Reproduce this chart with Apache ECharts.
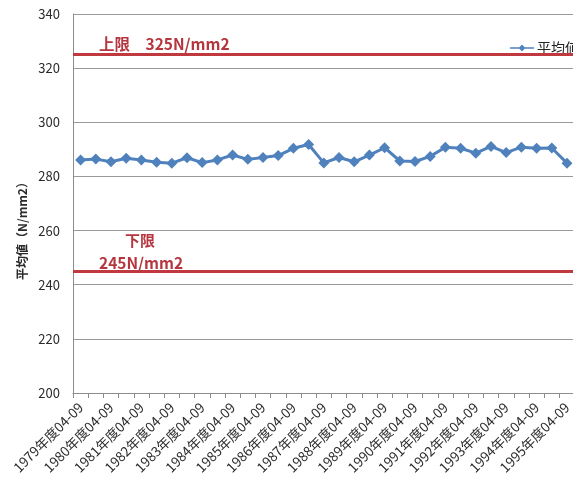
<!DOCTYPE html>
<html>
<head>
<meta charset="utf-8">
<script src="https://cdn.jsdelivr.net/npm/echarts@6/dist/echarts.min.js"></script>
<style>
  html, body { margin: 0; padding: 0; background: #fff; overflow: hidden; }
  #chart { width: 620px; height: 485px; }
</style>
</head>
<body>
<div id="chart"></div>
<script>
// Half-year periods (April–September / October–March) per fiscal year
const years = [1979, 1980, 1981, 1982, 1983, 1984, 1985, 1986, 1987, 1988,
               1989, 1990, 1991, 1992, 1993, 1994, 1995];
const categories = [];
years.forEach(y => {
  categories.push(y + '年度04-09');
  categories.push(y + '年度10-03');
});
categories.length = 33; // up to 1995年度04-09

// Average strength (N/mm2)
const averageValues = [
  286.1, 286.4, 285.4, 286.7, 286.1, 285.2, 284.9, 286.9, 285.1, 286.1,
  287.9, 286.3, 287.0, 287.7, 290.4, 291.8, 285.0, 287.0, 285.4, 287.9,
  290.6, 285.7, 285.5, 287.4, 290.8, 290.4, 288.6, 291.1, 288.8, 290.8,
  290.4, 290.5, 284.9
];

// Specification limits
const upperLimit = 325;
const lowerLimit = 245;

// Value axis ticks
const yMin = 200, yMax = 340, yStep = 20;

const FONT = '"Noto Sans CJK JP", "Noto Sans", sans-serif';
const LIMIT_RED = '#c0393f';
const LIMIT_TEXT = '#b5363f';
const BLUE = '#4f81bd';

const chart = echarts.init(document.getElementById('chart'));
chart.setOption({
  animation: false,
  textStyle: { fontFamily: FONT },
  grid: { left: 73, top: 14, height: 379, width: 33 * 15.2 },
  legend: {
    left: 505, top: 36,
    itemWidth: 24, itemHeight: 10, itemGap: 4,
    textStyle: { fontSize: 14, color: '#222', fontFamily: FONT, padding: [0, 0, 0, -2] },
    data: [{ name: '平均値', icon: 'path://M0,4.2H9.4L12,1.6L14.6,4.2H24V5.8H14.6L12,8.4L9.4,5.8H0Z' }]
  },
  xAxis: {
    type: 'category',
    data: categories,
    boundaryGap: true,
    axisLine: { lineStyle: { color: '#8c8c8c', width: 1 } },
    axisTick: { show: true, interval: 0, length: 5, lineStyle: { color: '#8c8c8c' } },
    axisLabel: {
      interval: 1, rotate: 45, fontSize: 13.5, color: '#2a2a2a',
      fontFamily: FONT, margin: 12
    }
  },
  yAxis: {
    type: 'value',
    min: yMin, max: yMax, interval: yStep,
    axisLine: { show: true, lineStyle: { color: '#8c8c8c' } },
    axisTick: { show: false },
    axisLabel: { fontSize: 13, color: '#2a2a2a', margin: 13, fontFamily: FONT },
    splitLine: { lineStyle: { color: '#9a9a9a', width: 1 } }
  },
  graphic: [{
    type: 'text',
    x: 22, y: 228,
    rotation: Math.PI / 2,
    style: {
      text: '平均値（N/mm2）',
      fontSize: 12, fontWeight: 'bold', fill: '#2a2a2a',
      fontFamily: FONT, align: 'center', verticalAlign: 'middle'
    }
  }],
  series: [{
    name: '平均値',
    type: 'line',
    data: averageValues,
    symbol: 'diamond',
    symbolSize: 11,
    showAllSymbol: true,
    lineStyle: { color: BLUE, width: 3 },
    itemStyle: { color: BLUE },
    markLine: {
      silent: true,
      symbol: ['none', 'none'],
      lineStyle: { color: LIMIT_RED, width: 3, type: 'solid' },
      data: [
        {
          yAxis: upperLimit,
          label: {
            position: 'insideStartTop',
            formatter: '上限　325N/mm2',
            color: LIMIT_TEXT, fontSize: 15.5, fontWeight: 'bold',
            fontFamily: FONT, distance: [26, 3]
          }
        },
        {
          yAxis: lowerLimit,
          label: {
            position: 'insideStartTop',
            formatter: '{a|下限}\n{b|245N/mm2}',
            color: LIMIT_TEXT, fontSize: 15, fontWeight: 'bold',
            fontFamily: FONT, distance: [26, -2], lineHeight: 24,
            rich: {
              a: { padding: [0, 0, 0, 26], fontSize: 15, fontWeight: 'bold', color: LIMIT_TEXT, lineHeight: 26 },
              b: { fontSize: 15.5, fontWeight: 'bold', color: LIMIT_TEXT, lineHeight: 20 }
            }
          }
        }
      ]
    }
  }]
});
</script>
</body>
</html>
